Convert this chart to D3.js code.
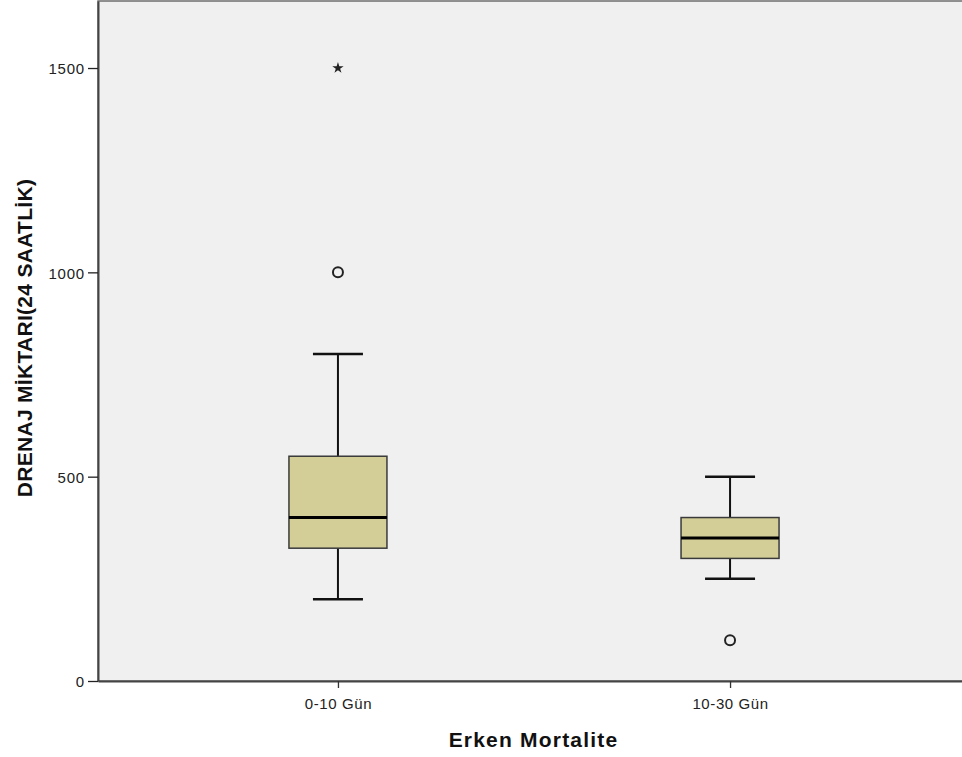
<!DOCTYPE html>
<html>
<head>
<meta charset="utf-8">
<script src="https://cdn.jsdelivr.net/npm/d3@7"></script>
<style>
  body { margin: 0; background: #fff; }
  svg { display: block; font-family: "Liberation Sans", Arial, sans-serif; }
</style>
</head>
<body>
<svg id="svg" width="962" height="757"></svg>
<script>
const categories = ['0-10 Gün', '10-30 Gün'];
const whiskerLow = [200, 250];
const q1 = [325, 300];
const median = [400, 350];
const q3 = [550, 400];
const whiskerHigh = [800, 500];
const outliers = [{ cat: '0-10 Gün', value: 1000 }, { cat: '10-30 Gün', value: 100 }];
const extremes = [{ cat: '0-10 Gün', value: 1500 }];
const yTicks = [0, 500, 1000, 1500];

const plotLeft = 98, plotTop = 1, plotRight = 970, plotBottom = 681;
const FONT = '"Liberation Sans", Arial, sans-serif';

const svg = d3.select('#svg');

const x = d3.scalePoint().domain(categories).range([plotLeft, plotRight]).padding(0.612);
const y = d3.scaleLinear().domain([0, 1664]).range([plotBottom, plotTop]);

svg.append('rect').
attr('x', plotLeft).
attr('y', plotTop).
attr('width', plotRight - plotLeft).
attr('height', plotBottom - plotTop).
attr('fill', '#f0f0f0').
attr('stroke', '#6e6e6e').
attr('stroke-width', 1.5);

const yAxis = d3.axisLeft(y).tickValues(yTicks).tickFormat(d3.format('d')).tickSize(10).tickSizeOuter(0);
const gy = svg.append('g').attr('transform', `translate(${plotLeft},0)`).call(yAxis);
gy.select('.domain').attr('stroke', '#444').attr('stroke-width', 2);
gy.selectAll('.tick line').attr('stroke', '#222').attr('stroke-width', 1.3);
gy.selectAll('.tick text').
attr('font-size', 15).
attr('letter-spacing', 0.8).
attr('fill', '#222').
attr('x', -13).
attr('dy', '0.38em').
attr('font-family', FONT);

const xAxis = d3.axisBottom(x).tickSize(7).tickSizeOuter(0);
const gx = svg.append('g').attr('transform', `translate(0,${plotBottom})`).call(xAxis);
gx.select('.domain').attr('stroke', '#444').attr('stroke-width', 2);
gx.selectAll('.tick line').attr('stroke', '#333').attr('stroke-width', 1.3);
gx.selectAll('.tick text').
attr('font-size', 15).
attr('letter-spacing', 0.6).
attr('fill', '#222').
attr('y', 28).
attr('dy', 0).
attr('font-family', FONT);

const boxW = 98, capW = 50;

const boxes = svg.selectAll('g.box').
data(categories).
enter().
append('g').
attr('class', 'box');

// whiskers
boxes.append('line').
attr('x1', d => x(d)).attr('x2', d => x(d)).
attr('y1', (d, i) => y(whiskerHigh[i])).attr('y2', (d, i) => y(q3[i])).
attr('stroke', '#111').attr('stroke-width', 2);
boxes.append('line').
attr('x1', d => x(d)).attr('x2', d => x(d)).
attr('y1', (d, i) => y(q1[i])).attr('y2', (d, i) => y(whiskerLow[i])).
attr('stroke', '#111').attr('stroke-width', 2);
boxes.append('line').
attr('x1', d => x(d) - capW / 2).attr('x2', d => x(d) + capW / 2).
attr('y1', (d, i) => y(whiskerHigh[i])).attr('y2', (d, i) => y(whiskerHigh[i])).
attr('stroke', '#111').attr('stroke-width', 2.5);
boxes.append('line').
attr('x1', d => x(d) - capW / 2).attr('x2', d => x(d) + capW / 2).
attr('y1', (d, i) => y(whiskerLow[i])).attr('y2', (d, i) => y(whiskerLow[i])).
attr('stroke', '#111').attr('stroke-width', 2.5);

boxes.append('rect').
attr('x', d => x(d) - boxW / 2).
attr('width', boxW).
attr('y', (d, i) => y(q3[i])).
attr('height', (d, i) => y(q1[i]) - y(q3[i])).
attr('fill', '#d3ce98').
attr('stroke', '#3a3a3a').
attr('stroke-width', 1.5);

boxes.append('line').
attr('x1', d => x(d) - boxW / 2).attr('x2', d => x(d) + boxW / 2).
attr('y1', (d, i) => y(median[i])).attr('y2', (d, i) => y(median[i])).
attr('stroke', '#000').attr('stroke-width', 3);

svg.selectAll('circle.outlier').
data(outliers).
enter().
append('circle').
attr('class', 'outlier').
attr('cx', d => x(d.cat)).
attr('cy', d => y(d.value)).
attr('r', 5).
attr('fill', 'none').
attr('stroke', '#222').
attr('stroke-width', 2);

svg.selectAll('path.extreme').
data(extremes).
enter().
append('path').
attr('class', 'extreme').
attr('transform', d => `translate(${x(d.cat)},${y(d.value)})`).
attr('d', d3.symbol(d3.symbolStar, 40)).
attr('fill', '#222');

svg.append('text').
attr('x', 533.5).
attr('y', 747).
attr('text-anchor', 'middle').
attr('font-size', 21).
attr('letter-spacing', 1.2).
attr('font-weight', 'bold').
attr('fill', '#111').
text('Erken Mortalite');

svg.append('text').
attr('transform', 'translate(32,338) rotate(-90)').
attr('text-anchor', 'middle').
attr('font-size', 21).
attr('letter-spacing', 0.3).
attr('font-weight', 'bold').
attr('fill', '#111').
text('DRENAJ MİKTARI(24 SAATLİK)');
</script>
</body>
</html>
